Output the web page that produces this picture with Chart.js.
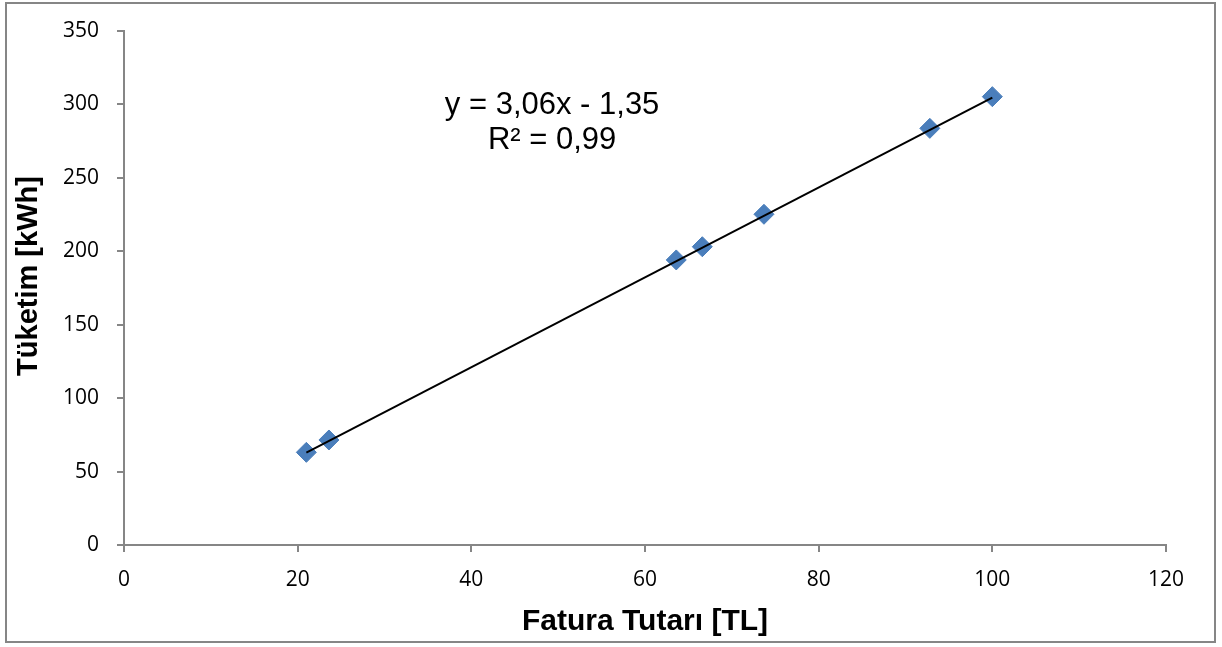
<!DOCTYPE html>
<html>
<head>
<meta charset="utf-8">
<script src="https://cdn.jsdelivr.net/npm/chart.js@4.4.1/dist/chart.umd.min.js"></script>
<style>
  html, body { margin: 0; padding: 0; background: #ffffff; }
  #wrap { width: 1222px; height: 647px; position: relative; }
</style>
</head>
<body>
<div id="wrap"><canvas id="chart" width="1222" height="647"></canvas></div>
<script>
// Monthly bill amount (TL) vs. consumption (kWh)
const faturaTutari = [21.0, 23.6, 63.6, 66.6, 73.7, 92.8, 100.0];
const tuketim      = [63.1, 71.5, 194.1, 203.1, 225.2, 283.7, 305.3];

// Linear trendline y = a*x + b, drawn over the range of the bills
const trendSlope = 3.06;
const trendIntercept = -1.35;
const trendRange = [21.0, 100.0];
const equationLines = ['y = 3,06x - 1,35', 'R² = 0,99'];

const xTicks = [0, 20, 40, 60, 80, 100, 120];
const yTicks = [0, 50, 100, 150, 200, 250, 300, 350];
const yTitle = 'Tüketim [kWh]';

const scatterPoints = faturaTutari.map((x, i) => ({ x: x, y: tuketim[i] }));
const trendPoints = trendRange.map(x => ({ x: x, y: trendSlope * x + trendIntercept }));

const axisGray = '#868686';
const tickFont = { family: 'Open Sans', size: 21 };
const titleFont = { family: 'Liberation Sans', size: 30, weight: 'bold' };

// Outer frame around the whole chart
const framePlugin = {
  id: 'frame',
  beforeDraw(chart) {
    const ctx = chart.ctx;
    ctx.save();
    ctx.fillStyle = '#ffffff';
    ctx.fillRect(0, 0, chart.width, chart.height);
    ctx.strokeStyle = axisGray;
    ctx.lineWidth = 2;
    ctx.strokeRect(6, 3, 1209, 639);
    ctx.restore();
  }
};

// Vertical axis title and trendline equation text
const textPlugin = {
  id: 'texts',
  afterDatasetsDraw(chart) {
    const ctx = chart.ctx;
    const xs = chart.scales.x, ys = chart.scales.y;
    ctx.save();
    ctx.fillStyle = '#000000';

    // y axis title, rotated
    ctx.save();
    ctx.translate(29, 276);
    ctx.rotate(-Math.PI / 2);
    ctx.font = 'bold 29px "Liberation Sans", Arial, sans-serif';
    ctx.textAlign = 'center';
    ctx.textBaseline = 'middle';
    ctx.fillText(yTitle, 0, 0);
    ctx.restore();

    // regression equation
    const cx = xs.getPixelForValue(49.3);
    ctx.font = '31px "Liberation Sans", Arial, sans-serif';
    ctx.textAlign = 'center';
    ctx.textBaseline = 'middle';
    ctx.fillText(equationLines[0], cx, ys.getPixelForValue(299.5));
    ctx.fillText(equationLines[1], cx, ys.getPixelForValue(275.5));
    ctx.restore();
  }
};

new Chart(document.getElementById('chart'), {
  type: 'scatter',
  data: {
    datasets: [
      {
        label: 'Tüketim',
        data: scatterPoints,
        pointStyle: 'rectRot',
        pointRadius: 10,
        pointHoverRadius: 10,
        backgroundColor: '#4a7ebb',
        borderColor: '#4a7ebb',
        borderWidth: 1,
        order: 2
      },
      {
        type: 'line',
        label: 'Trend',
        data: trendPoints,
        borderColor: '#000000',
        borderWidth: 2,
        pointRadius: 0,
        fill: false,
        order: 1
      }
    ]
  },
  options: {
    responsive: false,
    animation: false,
    devicePixelRatio: 1,
    layout: { padding: { left: 6, right: 56, top: 31, bottom: 6 } },
    plugins: {
      legend: { display: false },
      tooltip: { enabled: false }
    },
    scales: {
      x: {
        type: 'linear',
        min: 0,
        max: 120,
        afterBuildTicks(scale) { scale.ticks = xTicks.map(v => ({ value: v })); },
        afterFit(scale) { scale.height = 647 - 545 - 6; },
        grid: { drawOnChartArea: false, drawTicks: true, tickLength: 7, color: axisGray, lineWidth: 2 },
        border: { color: axisGray, width: 2 },
        ticks: { color: '#000000', font: tickFont, padding: 15, maxRotation: 0 },
        title: { display: true, text: 'Fatura Tutarı [TL]', color: '#000000', font: titleFont, padding: { top: 4, bottom: 1 } }
      },
      y: {
        type: 'linear',
        min: 0,
        max: 350,
        afterBuildTicks(scale) { scale.ticks = yTicks.map(v => ({ value: v })); },
        afterFit(scale) { scale.width = 124 - 6; },
        grid: { drawOnChartArea: false, drawTicks: true, tickLength: 7, color: axisGray, lineWidth: 2 },
        border: { color: axisGray, width: 2 },
        ticks: { color: '#000000', font: tickFont, padding: 18 }
      }
    }
  },
  plugins: [framePlugin, textPlugin]
});
</script>
</body>
</html>
